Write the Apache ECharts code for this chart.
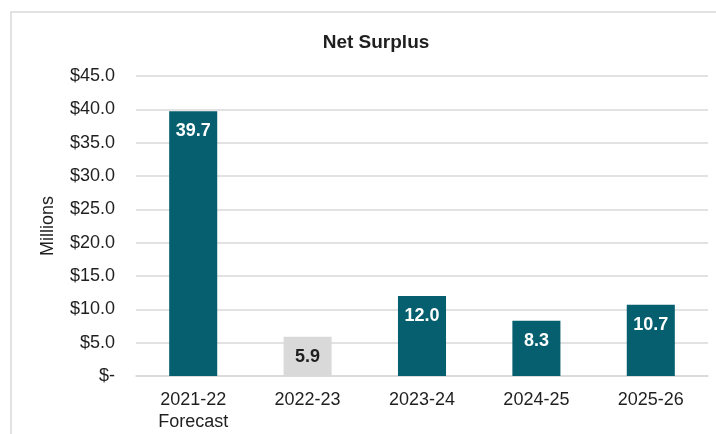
<!DOCTYPE html>
<html>
<head>
<meta charset="utf-8">
<style>
  html, body { margin: 0; padding: 0; background: #fff; }
  #chart { width: 716px; height: 434px; }
</style>
<script src="https://cdn.jsdelivr.net/npm/echarts@6/dist/echarts.min.js"></script>
</head>
<body>
<div id="chart"></div>
<script>
// Net surplus by financial year, in millions of dollars
const categories = ['2021-22\nForecast', '2022-23', '2023-24', '2024-25', '2025-26'];
const netSurplus = [39.7, 5.9, 12.0, 8.3, 10.7];
// 2022-23 is shown in grey, the others in teal
const highlighted = [false, true, false, false, false];
const yTicks = { min: 0, max: 45, interval: 5 };

const FONT = '"Liberation Sans", Arial, Helvetica, sans-serif';
const TEAL = '#055f6e';
const GREY = '#d9d9d9';
const TEXT = '#1f1f1f';

const chart = echarts.init(document.getElementById('chart'), null, { renderer: 'canvas' });

chart.setOption({
  backgroundColor: '#ffffff',
  animation: false,
  graphic: [{
    type: 'rect',
    shape: { x: 11, y: 12, width: 720, height: 440 },
    style: { fill: 'none', stroke: '#d9d9d9', lineWidth: 1.5 },
    silent: true
  }],
  title: {
    text: 'Net Surplus',
    left: 371,
    top: 28,
    textAlign: 'center',
    textStyle: { fontFamily: FONT, fontSize: 19, fontWeight: 'bold', color: TEXT }
  },
  grid: { left: 136, right: 8, top: 76, bottom: 58 },
  xAxis: {
    type: 'category',
    data: categories,
    axisLine: { show: true, lineStyle: { color: '#d9d9d9', width: 1.5 } },
    axisTick: { show: false },
    axisLabel: {
      margin: 13,
      fontFamily: FONT,
      fontSize: 18,
      lineHeight: 22,
      color: TEXT
    }
  },
  yAxis: {
    type: 'value',
    min: yTicks.min,
    max: yTicks.max,
    interval: yTicks.interval,
    name: 'Millions',
    nameLocation: 'middle',
    nameGap: 79,
    nameRotate: 90,
    nameTextStyle: { fontFamily: FONT, fontSize: 18, color: TEXT },
    axisLine: { show: false },
    axisTick: { show: false },
    splitLine: { lineStyle: { color: '#d9d9d9', width: 1.5 } },
    axisLabel: {
      margin: 21,
      fontFamily: FONT,
      fontSize: 18,
      color: TEXT,
      formatter: v => v === 0 ? '$-' : '$' + v.toFixed(1)
    }
  },
  series: [{
    type: 'bar',
    barWidth: '42%',
    data: netSurplus.map((v, i) => ({
      value: v,
      itemStyle: { color: highlighted[i] ? GREY : TEAL },
      label: { color: highlighted[i] ? TEXT : '#ffffff' }
    })),
    label: {
      show: true,
      position: 'insideTop',
      distance: 11,
      fontFamily: FONT,
      fontSize: 18,
      fontWeight: 'bold',
      formatter: p => p.value.toFixed(1)
    }
  }]
});
</script>
</body>
</html>
